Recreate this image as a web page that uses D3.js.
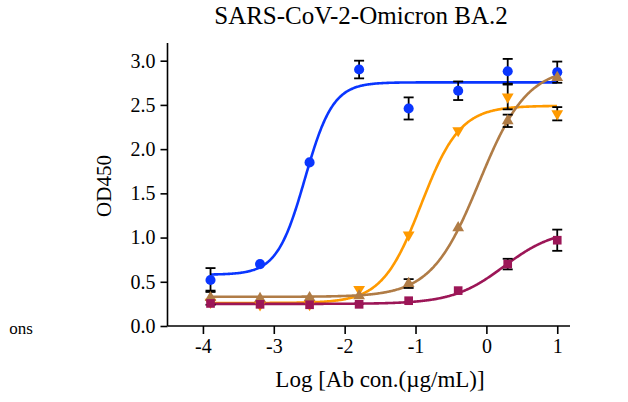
<!DOCTYPE html>
<html>
<head>
<meta charset="utf-8">
<script src="https://cdn.jsdelivr.net/npm/d3@7"></script>
<style>
  html, body { margin: 0; padding: 0; background: #fff; }
  svg { display: block; }
</style>
</head>
<body>
<svg id="chart" width="628" height="402"></svg>
<script>
// log10 of antibody concentration (5-fold dilution series from 10 µg/mL)
const logConc = [-3.893, -3.194, -2.495, -1.796, -1.097, -0.398, 0.301, 1.0];

// OD450 means per antibody
const blueY   = [0.52, 0.70, 1.85, 2.90, 2.46, 2.66, 2.88, 2.87];
const orangeY = [0.27, 0.24, 0.245, 0.415, 1.03, 2.21, 2.59, 2.40];
const brownY  = [0.32, 0.31, 0.32, 0.34, 0.48, 1.11, 2.32, 2.81];
const maroonY = [0.255, 0.245, 0.24, 0.245, 0.286, 0.40, 0.70, 0.97];

// error bar half-widths (0 = bar hidden behind the marker)
const blueErr   = [0.135, 0, 0, 0.10, 0.125, 0.105, 0.14, 0.12];
const orangeErr = [0, 0, 0, 0, 0, 0, 0.14, 0.075];
const brownErr  = [0.08, 0, 0, 0, 0.05, 0, 0.07, 0];
const maroonErr = [0, 0, 0, 0, 0, 0, 0.06, 0.12];

// four-parameter logistic fit: [bottom, top, logEC50, hill]
const blueFit   = [0.58, 2.755, -2.56, 2.2];
const orangeFit = [0.26, 2.49, -0.92, 1.58];
const brownFit  = [0.33, 2.93, -0.10, 1.28];
const maroonFit = [0.25, 1.10, 0.25, 1.2];

const xTicks = [-4, -3, -2, -1, 0, 1];
const yTicks = [0, 0.5, 1.0, 1.5, 2.0, 2.5, 3.0];

const series = [
  { y: blueY,   err: blueErr,   fit: blueFit,   color: "#0a36ff", shape: "circle" },
  { y: orangeY, err: orangeErr, fit: orangeFit, color: "#ff9a00", shape: "triDown" },
  { y: brownY,  err: brownErr,  fit: brownFit,  color: "#b07c46", shape: "triUp" },
  { y: maroonY, err: maroonErr, fit: maroonFit, color: "#9c1657", shape: "square" }
];

const FONT = '"Liberation Serif", "Times New Roman", serif';
const svg = d3.select("#chart");
const x = d3.scaleLinear().domain([-4.5, 1.18]).range([167.5, 570]);
const y = d3.scaleLinear().domain([0, 3.2]).range([326, 43]);

// axes
const xAxis = svg.append("g").attr("transform", "translate(0,326)")
  .call(d3.axisBottom(x).tickValues(xTicks).tickSize(8).tickPadding(5)
    .tickFormat(d => String(d)).tickSizeOuter(0));
const yAxis = svg.append("g").attr("transform", "translate(167.5,0)")
  .call(d3.axisLeft(y).tickValues(yTicks).tickSize(7).tickPadding(5)
    .tickFormat(d3.format(".1f")).tickSizeOuter(0));
[xAxis, yAxis].forEach(a => {
  a.attr("font-family", null).attr("font-size", null);
  a.selectAll("path, line").attr("stroke", "#000").attr("stroke-width", 1.6);
  a.selectAll("text").style("font-family", FONT).style("font-size", "20px").attr("fill", "#000");
});
yAxis.select(".domain").attr("d", `M0,${y.range()[0]}V${y.range()[1]}`);
xAxis.select(".domain").attr("d", `M${x.range()[0]},0H${x.range()[1]}`);

// 4PL curves
const logistic = (p, v) => p[0] + (p[1] - p[0]) / (1 + Math.pow(10, (p[2] - v) * p[3]));
const xs = d3.range(logConc[0], logConc[logConc.length - 1] + 0.0001, 0.01);
const line = d3.line().x(d => x(d[0])).y(d => y(d[1]));
series.forEach(s => {
  svg.append("path")
    .attr("d", line(xs.map(v => [v, logistic(s.fit, v)])))
    .attr("fill", "none").attr("stroke", s.color).attr("stroke-width", 2.6);
});

// error bars
series.forEach(s => {
  s.y.forEach((v, i) => {
    const e = s.err[i];
    if (!e) return;
    const cx = x(logConc[i]);
    const g = svg.append("g").attr("stroke", "#000").attr("stroke-width", 1.8);
    g.append("line").attr("x1", cx).attr("x2", cx).attr("y1", y(v - e)).attr("y2", y(v + e));
    [v - e, v + e].forEach(t => {
      g.append("line").attr("x1", cx - 5).attr("x2", cx + 5).attr("y1", y(t)).attr("y2", y(t));
    });
  });
});

// markers
const symbolPath = shape => {
  if (shape === "circle") return d3.symbol(d3.symbolCircle, 80)();
  if (shape === "square") return d3.symbol(d3.symbolSquare, 75)();
  return d3.symbol(d3.symbolTriangle, 60)();
};
series.forEach(s => {
  s.y.forEach((v, i) => {
    const rot = s.shape === "triDown" ? " rotate(180)" : "";
    svg.append("path")
      .attr("d", symbolPath(s.shape))
      .attr("transform", `translate(${x(logConc[i])},${y(v)})${rot}`)
      .attr("fill", s.color);
  });
});

// titles
const label = (txt, size, tf) => svg.append("text").attr("transform", tf)
  .attr("text-anchor", "middle").style("font-family", FONT).style("font-size", size + "px")
  .attr("fill", "#000").text(txt);
label("SARS-CoV-2-Omicron BA.2", 25, "translate(361,24)");
label("Log [Ab con.(µg/mL)]", 23, "translate(380,387)");
label("OD450", 21, "translate(111,186) rotate(-90)");
label("ons", 17, "translate(21,334)");
</script>
</body>
</html>
